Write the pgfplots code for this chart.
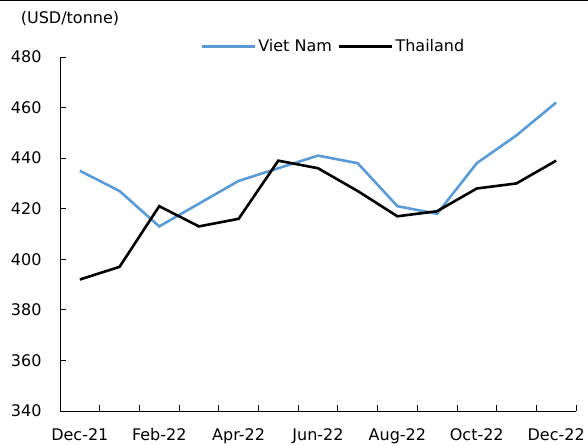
\documentclass[border=0pt]{standalone}
\usepackage{pgfplots}
\pgfplotsset{compat=1.18}
\usepackage{fontspec}
\setmainfont{DejaVu Sans}
\definecolor{vnblue}{RGB}{91,155,213}
\begin{document}
\fontsize{16pt}{19pt}\selectfont
\begin{tikzpicture}
\useasboundingbox (-60pt,-35pt) rectangle (528pt,411pt);
\begin{axis}[
  at={(0pt,0pt)}, anchor=south west,
  scale only axis, width=516pt, height=354pt,
  xmin=-0.5, xmax=12.5, ymin=340, ymax=480,
  axis lines*=left,
  axis line style={line width=0.8pt},
  tick align=inside,
  xtick={0,2,4,6,8,10,12},
  xticklabels={Dec-21,Feb-22,Apr-22,Jun-22,Aug-22,Oct-22,Dec-22},
  minor xtick={-0.5,0.5,...,12.5},
  major x tick style={draw=none},
  minor tick length=6pt,
  major tick length=6pt,
  ytick={340,360,...,480},
  tick style={black, line width=0.8pt},
  yticklabel style={xshift=-13pt},
  xticklabel style={yshift=-12pt},
  /pgf/number format/assume math mode=true,
  ticklabel style={font=\fontsize{16pt}{19pt}\selectfont},
  legend style={draw=none, fill=none, at={(0.53,1.03)}, anchor=center,
    legend columns=2, font=\fontsize{16pt}{19pt}\selectfont,
    /tikz/every even column/.append style={column sep=4pt}},
  legend image code/.code={\draw[#1, line width=2.6pt] (0pt,0pt) -- (53pt,0pt);},
  clip=false,
]
\addplot[color=vnblue, line width=2.6pt] coordinates {
(0,435) (1,427) (2,413) (3,422) (4,431) (5,436) (6,441) (7,438) (8,421) (9,418) (10,438) (11,449) (12,462)};
\addlegendentry{Viet Nam}
\addplot[color=black, line width=2.6pt] coordinates {
(0,392) (1,397) (2,421) (3,413) (4,416) (5,439) (6,436) (7,427) (8,417) (9,419) (10,428) (11,430) (12,439)};
\addlegendentry{Thailand}
\end{axis}
\draw[line width=3pt] (-60pt,411pt) -- (528pt,411pt);
\node[anchor=center] at (10pt,393pt) {(USD/tonne)};
\end{tikzpicture}
\end{document}
